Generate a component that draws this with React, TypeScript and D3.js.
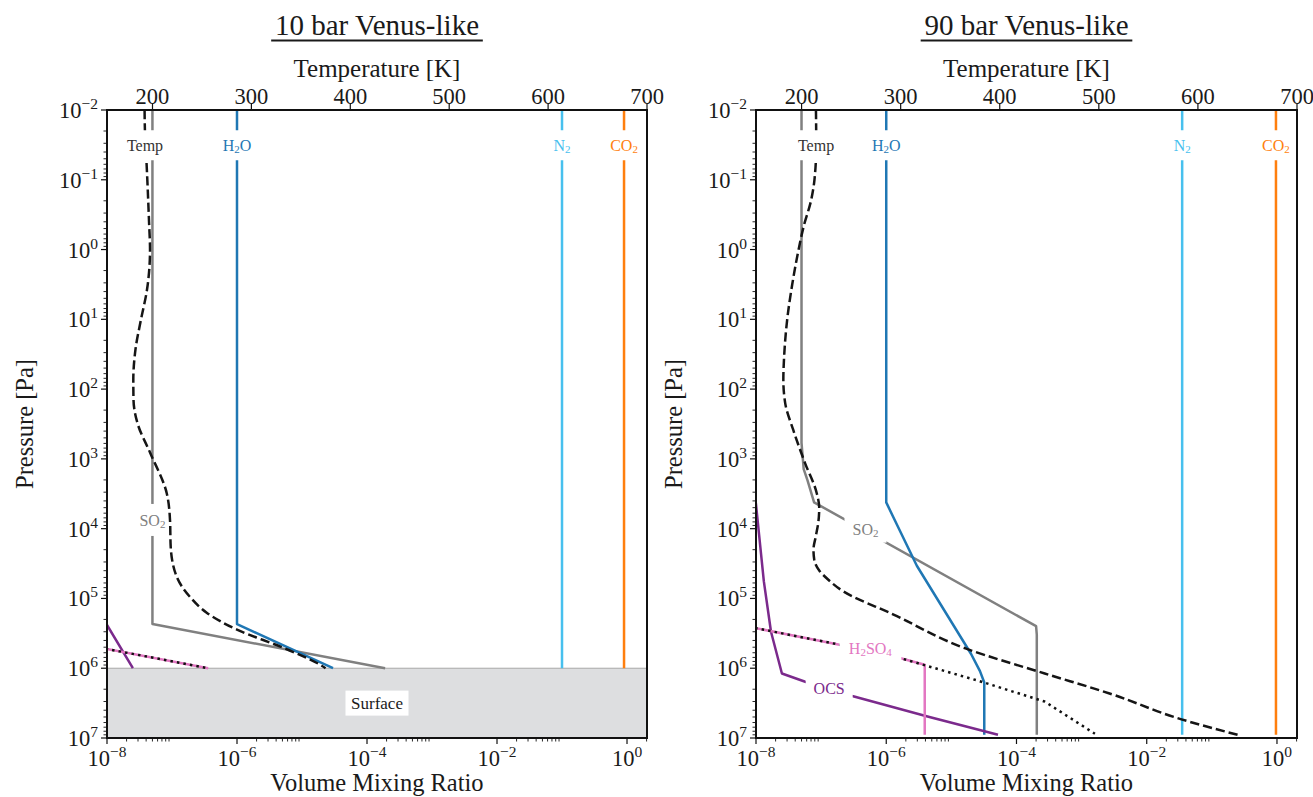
import React from 'react';
import * as d3 from 'd3';

type Pt = [number, number];

// ---------------- data ----------------
const vmrMajor = [1e-8, 1e-6, 1e-4, 1e-2, 1];
const pMajor = [1e-2, 1e-1, 1, 10, 100, 1e3, 1e4, 1e5, 1e6, 1e7];
const tTicks = [200, 300, 400, 500, 600, 700];
const titles = ['10 bar Venus-like', '90 bar Venus-like'];

// 10 bar case: [pressure Pa, temperature K]
const temp10: Pt[] = [[1e-2,192],[2.1e-2,192.4],[5.8e-2,194],[0.4,196.5],[1,197.5],[3.8,194.4],[10,188.4],[27,182.8],[74,180.6],[143,180.8],[324,185.3],[810,197.5],[3.1e3,214.4],[7.5e3,217.7],[1.8e4,218.4],[4.9e4,224.5],[9.5e4,237.9],[1.6e5,254.8],[2.8e5,285.4],[5.1e5,332.3],[8.9e5,369.4],[1e6,375]];
// [pressure Pa, VMR]
const h2o10: Pt[] = [[1e-2,1e-6],[2.33e5,1e-6],[1e6,3.0e-5]];
const so210: Pt[] = [[1e-2,5e-8],[2.33e5,5e-8],[1e6,1.9e-4]];
const n210: Pt[] = [[1e-2,0.1],[1e6,0.1]];
const co210: Pt[] = [[1e-2,0.9],[1e6,0.9]];
const ocs10: Pt[] = [[1e5,5.6e-9],[2.4e5,1e-8],[1e6,2.5e-8]];
const h2so4Sat10: Pt[] = [[4e5,1.9e-9],[5.3e5,1e-8],[1e6,3.6e-7]];
const h2so410: Pt[] = [[4e5,1.9e-9],[5.3e5,1e-8],[1e6,3.6e-7]];

// 90 bar case
const temp90: Pt[] = [[1e-2,214.5],[3.2e-2,214.8],[0.1,213],[0.2,209.5],[0.46,202.2],[1,197],[3.2,190.5],[10,185.5],[32,182.5],[74,181.6],[160,183.5],[385,191.6],[1.15e3,203.5],[3.1e3,215.3],[5e3,217.8],[7.9e3,217],[1.26e4,214.5],[2e4,212],[2.8e4,212.8],[4e4,218],[5.4e4,227],[7.9e4,242],[1.7e5,292.8],[5.2e5,365.4],[1.19e6,445.4],[2.3e6,510.8],[5.4e6,583.4],[9e6,640]];
const h2o90: Pt[] = [[1e-2,1e-6],[4.2e3,1e-6],[6.7e3,1.27e-6],[3.4e4,2.95e-6],[6.2e5,2.0e-5],[1.1e6,2.75e-5],[1.6e6,3.2e-5],[9e6,3.2e-5]];
const so290: Pt[] = [[1e-2,5e-8],[590,5e-8],[1.4e3,5.4e-8],[2.05e3,6.2e-8],[4.2e3,7.8e-8],[2.5e5,2.0e-4],[3.3e5,2.05e-4],[9e6,2.05e-4]];
const n290: Pt[] = [[1e-2,0.035],[9e6,0.035]];
const co290: Pt[] = [[1e-2,0.965],[9e6,0.965]];
const ocs90: Pt[] = [[2.5e3,9.3e-9],[4.5e3,1e-8],[5.7e4,1.32e-8],[3e5,1.7e-8],[1.19e6,2.5e-8],[1.56e6,5.7e-8],[2.5e6,3.0e-7],[5e6,4.6e-6],[9e6,5.2e-5]];
const h2so4Sat90: Pt[] = [[2.2e5,3.9e-9],[2.67e5,1e-8],[4.6e5,1.92e-7],[7.2e5,1.67e-6],[1.53e6,2.7e-5],[3.0e6,2.7e-4],[8.7e6,1.6e-3]];
const h2so490: Pt[] = [[2.2e5,3.9e-9],[2.67e5,1e-8],[4.6e5,1.92e-7],[7.2e5,1.67e-6],[8.9e5,3.9e-6],[9e6,3.9e-6]];

const surface10 = 1e6;

// ---------------- styles ----------------
const C = {
  co2: '#ff7f0e', n2: '#47c0ee', h2o: '#1f77b4', so2: '#808080',
  ocs: '#7b2a8c', h2so4: '#e377c2', temp: '#151515', text: '#1a1a1a',
};
const FONT = "'Liberation Serif', 'DejaVu Serif', serif";

type Series = { data: Pt[]; color: string; dash?: string; width?: number };
type Label = { parts: [string, boolean][]; v?: number; t?: number; p: number; color: string; w: number; h: number };

const sub = (s: string): [string, boolean][] => {
  const out: [string, boolean][] = [];
  for (const ch of s) out.push([ch, /[0-9]/.test(ch)]);
  return out;
};

const expStr = (v: number) => {
  const e = Math.round(Math.log10(v));
  return e < 0 ? '\u2212' + -e : String(e);
};

function LabelBox({ x, y, l }: { x: number; y: number; l: Label }) {
  let prevSub = false;
  return (
    <g>
      <rect x={x - l.w / 2} y={y - l.h / 2} width={l.w} height={l.h} fill="#fff" />
      <text x={x} y={y} textAnchor="middle" dominantBaseline="central" fontSize={16} fill={l.color} fontFamily={FONT}>
        {l.parts.map(([s, isSub], i) => {
          const dy = isSub && !prevSub ? 4 : !isSub && prevSub ? -4 : 0;
          prevSub = isSub;
          return (
            <tspan key={i} dy={dy} fontSize={isSub ? 11 : 16}>{s}</tspan>
          );
        })}
      </text>
    </g>
  );
}

function Panel(props: {
  id: string; x0: number; x1: number; title: string; temp: Pt[]; series: Series[];
  labels: Label[]; tempLabel: Label; surfaceP?: number;
}) {
  const { id, x0, x1, title, temp, series, labels, tempLabel, surfaceP } = props;
  const top = 110, bottom = 738;
  const xV = d3.scaleLog().domain([1e-8, 2.03]).range([x0, x1]);
  const xT = d3.scaleLinear().domain([154, 700]).range([x0, x1]);
  const y = d3.scaleLog().domain([1e-2, 1e7]).range([top, bottom]);
  const cx = (x0 + x1) / 2;

  const vLine = d3.line<Pt>().x(d => xV(d[1])).y(d => y(d[0])).curve(d3.curveLinear);
  const tLine = d3.line<Pt>().x(d => xT(d[1])).y(d => y(d[0])).curve(d3.curveMonotoneY);

  const minorX: number[] = [];
  [1e-8, 1e-6, 1e-4, 1e-2, 1].forEach(d => { for (let s = 2; s <= 9; s++) { const v = s * d; if (v <= 2.03) minorX.push(v); } });
  const minorY: number[] = [];
  pMajor.slice(0, -1).forEach(d => { for (let s = 2; s <= 9; s++) minorY.push(s * d); });

  return (
    <g>
      <defs>
        <clipPath id={id}>
          <rect x={x0} y={top} width={x1 - x0} height={bottom - top} />
        </clipPath>
      </defs>
      {/* title */}
      <text x={cx} y={35} textAnchor="middle" fontSize={29} fill={C.text} fontFamily={FONT}>{title}</text>
      {(() => {
        const tw = title.length * 12.45;
        return <line x1={cx - tw / 2} x2={cx + tw / 2} y1={40.5} y2={40.5} stroke={C.text} strokeWidth={2} />;
      })()}
      <text x={cx} y={77} textAnchor="middle" fontSize={25} fill={C.text} fontFamily={FONT}>Temperature [K]</text>

      <g clipPath={`url(#${id})`}>
        {surfaceP !== undefined && (
          <g>
            <rect x={x0} y={y(surfaceP)} width={x1 - x0} height={bottom - y(surfaceP)} fill="#dddee0" />
            <line x1={x0} x2={x1} y1={y(surfaceP)} y2={y(surfaceP)} stroke="#a8a8a8" strokeWidth={1} />
          </g>
        )}
        {series.map((s, i) => (
          <path key={i} d={vLine(s.data) || ''} fill="none" stroke={s.color} strokeWidth={s.width ?? 2.5}
            strokeDasharray={s.dash} strokeLinejoin="round" />
        ))}
        {labels.map((l, i) => (
          <LabelBox key={i} x={xV(l.v as number)} y={y(l.p)} l={l} />
        ))}
        {surfaceP !== undefined && (
          <g>
            <rect x={cx - 31.5} y={y(Math.sqrt(surfaceP * 1e7)) - 12.5} width={63} height={25} fill="#fff" />
            <text x={cx} y={y(Math.sqrt(surfaceP * 1e7))} textAnchor="middle" dominantBaseline="central" fontSize={17} fill={C.text} fontFamily={FONT}>Surface</text>
          </g>
        )}
        <path d={tLine(temp) || ''} fill="none" stroke={C.temp} strokeWidth={2.5} strokeDasharray="9.25 4" />
        <LabelBox x={xT(tempLabel.t as number)} y={y(tempLabel.p)} l={tempLabel} />
      </g>

      {/* frame */}
      <rect x={x0} y={top} width={x1 - x0} height={bottom - top} fill="none" stroke="#111" strokeWidth={2} />

      {/* top temperature axis */}
      {tTicks.map(t => (
        <g key={t}>
          <line x1={xT(t)} x2={xT(t)} y1={top} y2={top - 6} stroke="#111" strokeWidth={1.2} />
          <text x={xT(t)} y={104} textAnchor="middle" fontSize={22.5} fill={C.text} fontFamily={FONT}>{t}</text>
        </g>
      ))}

      {/* bottom VMR axis */}
      {vmrMajor.map(v => (
        <g key={v}>
          <line x1={xV(v)} x2={xV(v)} y1={bottom} y2={bottom + 6} stroke="#111" strokeWidth={1.2} />
          <text x={xV(v)} y={766} textAnchor="middle" fontSize={22.5} fill={C.text} fontFamily={FONT}>
            <tspan>10</tspan><tspan dy={-9} fontSize={15.5}>{expStr(v)}</tspan>
          </text>
        </g>
      ))}
      {minorX.map((v, i) => (
        <line key={i} x1={xV(v)} x2={xV(v)} y1={bottom} y2={bottom + 3.5} stroke="#111" strokeWidth={0.9} />
      ))}
      <text x={cx} y={791} textAnchor="middle" fontSize={24.5} fill={C.text} fontFamily={FONT}>Volume Mixing Ratio</text>

      {/* left pressure axis */}
      {pMajor.map(p => (
        <g key={p}>
          <line x1={x0} x2={x0 - 6} y1={y(p)} y2={y(p)} stroke="#111" strokeWidth={1.2} />
          <text x={x0 - 9} y={y(p) + 8} textAnchor="end" fontSize={22.5} fill={C.text} fontFamily={FONT}>
            <tspan>10</tspan><tspan dy={-9} fontSize={15.5}>{expStr(p)}</tspan>
          </text>
        </g>
      ))}
      {minorY.map((p, i) => (
        <line key={i} x1={x0} x2={x0 - 3.5} y1={y(p)} y2={y(p)} stroke="#111" strokeWidth={0.9} />
      ))}
      <text transform={`translate(${x0 - 74},${(top + bottom) / 2}) rotate(-90)`} textAnchor="middle" fontSize={24.5} fill={C.text} fontFamily={FONT}>Pressure [Pa]</text>
    </g>
  );
}

const topP = 3.2e-2;

export default function App() {
  const series10: Series[] = [
    { data: co210, color: C.co2 },
    { data: n210, color: C.n2 },
    { data: so210, color: C.so2 },
    { data: h2o10, color: C.h2o },
    { data: ocs10, color: C.ocs },
    { data: h2so410, color: C.h2so4 },
    { data: h2so4Sat10, color: '#111', dash: '2.5 4.1', width: 2.5 },
  ];
  const series90: Series[] = [
    { data: co290, color: C.co2 },
    { data: n290, color: C.n2 },
    { data: so290, color: C.so2 },
    { data: h2o90, color: C.h2o },
    { data: ocs90, color: C.ocs },
    { data: h2so490, color: C.h2so4 },
    { data: h2so4Sat90, color: '#111', dash: '2.5 4.1', width: 2.5 },
  ];
  const labels10: Label[] = [
    { parts: sub('H2O'), v: 1e-6, p: topP, color: C.h2o, w: 44, h: 30 },
    { parts: sub('N2'), v: 0.1, p: topP, color: C.n2, w: 30, h: 30 },
    { parts: sub('CO2'), v: 0.9, p: topP, color: C.co2, w: 44, h: 30 },
    { parts: sub('SO2'), v: 5e-8, p: 7.5e3, color: C.so2, w: 32, h: 32 },
  ];
  const labels90: Label[] = [
    { parts: sub('H2O'), v: 1e-6, p: topP, color: C.h2o, w: 44, h: 30 },
    { parts: sub('N2'), v: 0.035, p: topP, color: C.n2, w: 30, h: 30 },
    { parts: sub('CO2'), v: 0.965, p: topP, color: C.co2, w: 44, h: 30 },
    { parts: sub('SO2'), v: 4.8e-7, p: 1e4, color: C.so2, w: 42, h: 28 },
    { parts: sub('H2SO4'), v: 5.7e-7, p: 5.1e5, color: C.h2so4, w: 62, h: 26 },
    { parts: sub('OCS'), v: 1.33e-7, p: 1.9e6, color: C.ocs, w: 47, h: 26 },
  ];
  const tl10: Label = { parts: [['Temp', false]], t: 192.4, p: topP, color: '#333', w: 50, h: 30 };
  const tl90: Label = { parts: [['Temp', false]], t: 214.6, p: topP, color: '#333', w: 50, h: 30 };

  return (
    <svg width={1313} height={797} style={{ position: 'absolute', left: 0, top: 0, background: '#fff', fontFamily: FONT }}>
      <rect width={1313} height={797} fill="#fff" />
      <Panel id="clipL" x0={107} x1={647} title={titles[0]} temp={temp10} series={series10}
        labels={labels10} tempLabel={tl10} surfaceP={surface10} />
      <Panel id="clipR" x0={756} x1={1297} title={titles[1]} temp={temp90} series={series90}
        labels={labels90} tempLabel={tl90} />
    </svg>
  );
}
